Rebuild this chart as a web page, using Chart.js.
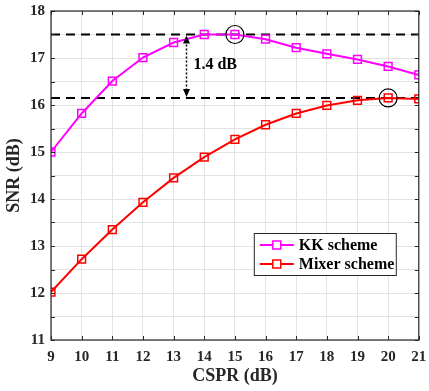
<!DOCTYPE html>
<html>
<head>
<meta charset="utf-8">
<script src="https://cdn.jsdelivr.net/npm/chart.js@4.4.0/dist/chart.umd.min.js"></script>
<style>
  html, body { margin: 0; padding: 0; background: #fff; }
  #wrap { width: 429px; height: 391px; }
</style>
</head>
<body>
<div id="wrap"><canvas id="snrChart" width="429" height="391"></canvas></div>
<script>
// CSPR values (dB) on the x axis
const csprValues = [9, 10, 11, 12, 13, 14, 15, 16, 17, 18, 19, 20, 21];
// SNR (dB)
const kkSnr = [15.0, 15.82, 16.51, 17.01, 17.33, 17.5, 17.5, 17.4, 17.22, 17.09, 16.97, 16.82, 16.64];
const mixerSnr = [12.02, 12.72, 13.35, 13.93, 14.45, 14.89, 15.27, 15.58, 15.82, 15.99, 16.1, 16.15, 16.13];
const seriesNames = ["KK scheme", "Mixer scheme"];
// reference levels (dashed) and highlighted optimum points
const refLevels = [17.5, 16.15];
const optimumX = [15, 20];
const optimumY = [17.5, 16.15];
const gapX = 13.42;
const gapLabel = "1.4 dB";
const xTicks = [9, 10, 11, 12, 13, 14, 15, 16, 17, 18, 19, 20, 21];
const yTicks = [11, 12, 13, 14, 15, 16, 17, 18];

const serif = "'Liberation Serif', 'Times New Roman', serif";

const toPts = (xs, ys) => xs.map((x, i) => ({ x: x, y: ys[i] }));

// dashed reference lines, circles, arrow, inward ticks, box, legend
const extras = {
  id: "extras",
  afterDatasetsDraw(chart) {
    const { ctx, chartArea: a, scales } = chart;
    const xs = scales.x, ys = scales.y;
    ctx.save();

    // double arrow between the two levels
    const ax = xs.getPixelForValue(gapX);
    const yTop = ys.getPixelForValue(refLevels[0]);
    const yBot = ys.getPixelForValue(refLevels[1]);
    ctx.strokeStyle = "#000";
    ctx.lineWidth = 1.5;
    ctx.setLineDash([2, 2]);
    ctx.beginPath();
    ctx.moveTo(ax, yTop + 6);
    ctx.lineTo(ax, yBot - 6);
    ctx.stroke();
    ctx.setLineDash([]);
    ctx.fillStyle = "#000";
    ctx.beginPath();
    ctx.moveTo(ax, yTop + 1); ctx.lineTo(ax - 3.5, yTop + 9); ctx.lineTo(ax + 3.5, yTop + 9); ctx.closePath();
    ctx.fill();
    ctx.beginPath();
    ctx.moveTo(ax, yBot - 1); ctx.lineTo(ax - 3.5, yBot - 9); ctx.lineTo(ax + 3.5, yBot - 9); ctx.closePath();
    ctx.fill();

    ctx.font = "bold 16px " + serif;
    ctx.textBaseline = "middle";
    ctx.textAlign = "left";
    ctx.fillText(gapLabel, ax + 7, (yTop + yBot) / 2 - 1);

    // inward tick marks
    ctx.strokeStyle = "#262626";
    ctx.lineWidth = 1;
    ctx.beginPath();
    xTicks.forEach(v => {
      const px = Math.round(xs.getPixelForValue(v)) + 0.5;
      ctx.moveTo(px, a.bottom); ctx.lineTo(px, a.bottom - 4);
      ctx.moveTo(px, a.top); ctx.lineTo(px, a.top + 4);
    });
    for (let v = 11; v <= 18; v += 0.5) {
      const py = Math.round(ys.getPixelForValue(v)) + 0.5;
      ctx.moveTo(a.left, py); ctx.lineTo(a.left + 4, py);
      ctx.moveTo(a.right, py); ctx.lineTo(a.right - 4, py);
    }
    ctx.stroke();
    ctx.lineWidth = 1.2;
    ctx.strokeRect(a.left, a.top, a.right - a.left, a.bottom - a.top);

    // legend
    const lx = a.right - 165, ly = a.top + 222, lw = 142, lh = 42;
    ctx.fillStyle = "#fff";
    ctx.fillRect(lx, ly, lw, lh);
    ctx.strokeStyle = "#262626";
    ctx.lineWidth = 1;
    ctx.strokeRect(lx + 0.5, ly + 0.5, lw, lh);
    const colors = ["#ff00ff", "#ff0000"];
    seriesNames.forEach((name, i) => {
      const ry = ly + 12 + i * 19;
      ctx.strokeStyle = colors[i];
      ctx.lineWidth = 2;
      ctx.beginPath();
      ctx.moveTo(lx + 6, ry); ctx.lineTo(lx + 40, ry);
      ctx.stroke();
      ctx.fillStyle = "#fff";
      ctx.fillRect(lx + 19, ry - 4, 8, 8);
      ctx.lineWidth = 1.5;
      ctx.strokeRect(lx + 19, ry - 4, 8, 8);
      ctx.fillStyle = "#000";
      ctx.font = "bold 16px " + serif;
      ctx.textAlign = "left";
      ctx.textBaseline = "middle";
      ctx.fillText(name, lx + 45, ry + 1);
    });
    ctx.restore();
  }
};

const refDatasets = refLevels.map(lv => ({
  data: [{ x: 9, y: lv }, { x: 21, y: lv }],
  borderColor: "#000",
  borderWidth: 2,
  borderDash: [9, 6],
  pointRadius: 0,
  showLine: true,
  order: 3
}));

new Chart(document.getElementById("snrChart"), {
  type: "scatter",
  data: {
    datasets: [
      ...refDatasets,
      {
        label: seriesNames[0],
        data: toPts(csprValues, kkSnr),
        showLine: true,
        borderColor: "#ff00ff",
        borderWidth: 2,
        pointStyle: "rect",
        pointRadius: 5.5,
        pointBorderWidth: 1.5,
        pointBorderColor: "#ff00ff",
        pointBackgroundColor: "rgba(255,255,255,0)",
        order: 2
      },
      {
        label: seriesNames[1],
        data: toPts(csprValues, mixerSnr),
        showLine: true,
        borderColor: "#ff0000",
        borderWidth: 2,
        pointStyle: "rect",
        pointRadius: 5.5,
        pointBorderWidth: 1.5,
        pointBorderColor: "#ff0000",
        pointBackgroundColor: "rgba(255,255,255,0)",
        order: 2
      },
      {
        data: toPts(optimumX, optimumY),
        showLine: false,
        pointStyle: "circle",
        pointRadius: 9,
        pointBorderWidth: 1.2,
        pointBorderColor: "#000",
        pointBackgroundColor: "rgba(0,0,0,0)",
        order: 1
      }
    ]
  },
  options: {
    responsive: false,
    animation: false,
    events: [],
    layout: { padding: { top: 11, right: 7, left: 0, bottom: 0 } },
    plugins: { legend: { display: false }, tooltip: { enabled: false } },
    scales: {
      x: {
        type: "linear",
        min: 9, max: 21,
        afterBuildTicks: s => { s.ticks = xTicks.map(v => ({ value: v })); },
        afterFit: s => { s.height = 51; s.paddingLeft = 0; s.paddingRight = 0; },
        grid: { color: "#e3e3e3", drawTicks: false },
        border: { display: false },
        ticks: { color: "#262626", padding: 8, font: { family: serif, size: 15, weight: "bold" } },
        title: { display: true, text: "CSPR (dB)", color: "#262626", padding: { top: 0 },
                 font: { family: serif, size: 18, weight: "bold" } }
      },
      y: {
        min: 11, max: 18,
        ticks: {
          stepSize: 0.5,
          color: "#262626",
          padding: 6,
          font: { family: serif, size: 15, weight: "bold" },
          callback: v => (Number.isInteger(v) && yTicks.includes(v) ? String(v) : "")
        },
        afterFit: s => { s.width = 51; s.paddingTop = 0; s.paddingBottom = 0; },
        grid: { color: "#e3e3e3", drawTicks: false },
        border: { display: false },
        title: { display: true, text: "SNR (dB)", color: "#262626", padding: { bottom: 0 },
                 font: { family: serif, size: 18, weight: "bold" } }
      }
    }
  },
  plugins: [extras]
});
</script>
</body>
</html>
